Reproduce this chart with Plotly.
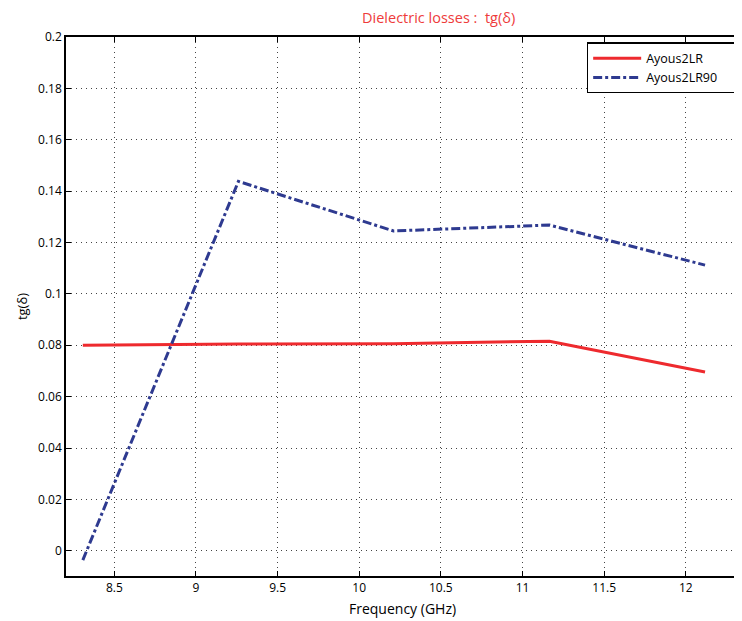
import plotly.graph_objects as go

freq = [8.307, 9.26, 10.21, 11.165, 12.118]
ayous2lr = [0.0800, 0.0805, 0.0806, 0.0816, 0.0696]
ayous2lr90 = [-0.0036, 0.1438, 0.1245, 0.1268, 0.1112]

x_ticks = [8.5, 9, 9.5, 10, 10.5, 11, 11.5, 12]
y_ticks = [0, 0.02, 0.04, 0.06, 0.08, 0.1, 0.12, 0.14, 0.16, 0.18, 0.2]
y_labels = ["0", "0.02", "0.04", "0.06", "0.08", "0.1", "0.12", "0.14", "0.16", "0.18", "0.2"]

FONT = "Open Sans, Liberation Sans, sans-serif"

fig = go.Figure()
fig.add_trace(go.Scatter(x=freq, y=ayous2lr, mode="lines", name="Ayous2LR        ",
                         line=dict(color="#EE2A2E", width=3)))
fig.add_trace(go.Scatter(x=freq, y=ayous2lr90, mode="lines", name="Ayous2LR90",
                         line=dict(color="#2E3A90", width=3, dash="dashdot")))

axis_common = dict(showline=True, linecolor="black", linewidth=1.5, mirror="allticks",
                   ticks="inside", ticklen=5, tickcolor="black", tickwidth=1,
                   showgrid=True, gridcolor="#444444", griddash="1px,4px", gridwidth=1,
                   zeroline=False, tickfont=dict(family=FONT, size=12, color="black"))

# page body has an 8px margin; figure is sized/offset to compensate
fig.update_layout(
    width=734, height=613,
    paper_bgcolor="white", plot_bgcolor="white",
    margin=dict(l=58, r=3, t=29, b=45, autoexpand=False),
    font=dict(family=FONT, size=12, color="black"),
    xaxis=dict(range=[8.204, 12.326], tickvals=x_ticks,
               ticktext=[str(v) for v in x_ticks],
               **axis_common),
    yaxis=dict(range=[-0.0098, 0.2], tickvals=y_ticks, ticktext=y_labels,
               title=dict(text="tg(δ)", font=dict(size=13), standoff=8),
               **axis_common),
    legend=dict(x=0.9955, y=0.99, xanchor="right", yanchor="top",
                bgcolor="white", bordercolor="black", borderwidth=1.2,
                font=dict(family=FONT, size=12.5), tracegroupgap=0,
                itemwidth=48),
    showlegend=True,
    annotations=[
        dict(text="Dielectric losses :  tg(δ)", xref="paper", yref="paper",
             x=0.437, y=1.0, xanchor="left", yanchor="bottom", yshift=8,
             showarrow=False, font=dict(family=FONT, size=14.5, color="#EE3B3B")),
        dict(text="Frequency (GHz)", xref="paper", yref="paper",
             x=0.5, y=0, xanchor="center", yanchor="top", yshift=-21,
             showarrow=False, font=dict(family=FONT, size=14, color="black")),
    ],
)

fig.write_html("out.html")
